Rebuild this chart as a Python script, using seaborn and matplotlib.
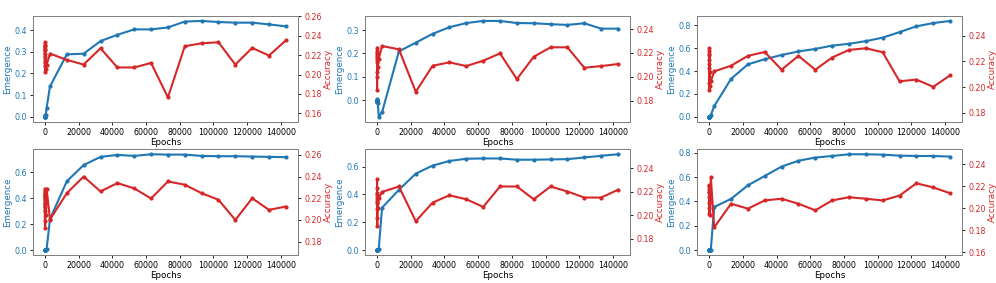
import numpy as np
import pandas as pd
import matplotlib
matplotlib.use('Agg')
import matplotlib.pyplot as plt
import seaborn as sns

# checkpoints (log steps, then 1000, 3000, 13000 ... 143000)
steps = [0, 1, 2, 4, 8, 16, 32, 64, 128, 256, 512, 1000, 3000,
         13000, 23000, 33000, 43000, 53000, 63000, 73000, 83000,
         93000, 103000, 113000, 123000, 133000, 143000]

emer_1 = [0, 0, 0, 0.001, 0, 0.002, 0.003, 0.004, 0.006, 0.008, 0.01, 0.04, 0.14,
          0.288, 0.291, 0.349, 0.378, 0.403, 0.403, 0.412, 0.439, 0.442, 0.437, 0.434, 0.434, 0.426, 0.417]
acc_1 = [0.2215, 0.2335, 0.2255, 0.2310, 0.2085, 0.2290, 0.2125, 0.2260, 0.2030, 0.2185, 0.2060, 0.2100, 0.2216,
         0.2151, 0.2103, 0.2271, 0.2073, 0.2073, 0.2120, 0.1764, 0.2292, 0.2323, 0.2333, 0.2103, 0.2275, 0.2196, 0.2353]

emer_2 = [0, 0.005, 0.003, 0.002, 0, -0.002, -0.004, -0.006, -0.008, -0.009, -0.01, -0.071, -0.051,
          0.209, 0.246, 0.284, 0.312, 0.330, 0.339, 0.339, 0.330, 0.329, 0.325, 0.322, 0.329, 0.306, 0.306]
acc_2 = [0.2200, 0.2245, 0.2120, 0.2215, 0.1995, 0.2180, 0.1890, 0.2150, 0.2040, 0.2170, 0.2080, 0.2150, 0.2258,
         0.2230, 0.1875, 0.2093, 0.2121, 0.2090, 0.2135, 0.2196, 0.1981, 0.2168, 0.2247, 0.2247, 0.2076, 0.2090, 0.2107]

emer_3 = [0, 0, 0, 0, 0, 0, 0.001, 0.001, 0.002, 0.003, 0.004, 0.015, 0.093,
          0.332, 0.459, 0.504, 0.541, 0.572, 0.594, 0.623, 0.639, 0.662, 0.693, 0.741, 0.792, 0.820, 0.839]
acc_3 = [0.2250, 0.2303, 0.2210, 0.2280, 0.2150, 0.2260, 0.2030, 0.2180, 0.1982, 0.2120, 0.2010, 0.2046, 0.2123,
         0.2167, 0.2244, 0.2274, 0.2136, 0.2244, 0.2136, 0.2231, 0.2290, 0.2303, 0.2272, 0.2046, 0.2059, 0.2003, 0.2092]

emer_4 = [0, 0, 0, 0, 0, 0, 0.001, 0.001, 0.002, 0.003, 0.004, 0.0075, 0.24,
          0.532, 0.657, 0.720, 0.735, 0.7275, 0.740, 0.7375, 0.7375, 0.7275, 0.725, 0.725, 0.7225, 0.720, 0.7175]
acc_4 = [0.2200, 0.2290, 0.2120, 0.2250, 0.1990, 0.2230, 0.2080, 0.2270, 0.1927, 0.2150, 0.2050, 0.2290, 0.2004,
         0.2247, 0.2400, 0.2263, 0.2340, 0.2291, 0.2198, 0.2355, 0.2325, 0.2247, 0.2186, 0.2000, 0.2200, 0.2093, 0.2124]

emer_5 = [0, 0, 0, 0, 0, 0, 0.001, 0.001, 0.002, 0.003, 0.004, 0.007, 0.305,
          0.433, 0.549, 0.607, 0.640, 0.656, 0.658, 0.658, 0.649, 0.649, 0.651, 0.653, 0.665, 0.677, 0.688]
acc_5 = [0.2150, 0.2309, 0.2100, 0.2230, 0.1980, 0.2190, 0.2050, 0.2170, 0.1911, 0.2120, 0.2060, 0.2144, 0.2198,
         0.2244, 0.1948, 0.2107, 0.2169, 0.2135, 0.2070, 0.2244, 0.2244, 0.2135, 0.2244, 0.2201, 0.2150, 0.2150, 0.2216]

emer_6 = [0, 0, 0, 0, 0, 0, 0, 0.001, 0.001, 0.002, 0.002, 0.003, 0.355,
          0.421, 0.532, 0.609, 0.686, 0.734, 0.760, 0.773, 0.787, 0.787, 0.784, 0.776, 0.773, 0.773, 0.768]
acc_6 = [0.2150, 0.2212, 0.2100, 0.2200, 0.2050, 0.2180, 0.2000, 0.2150, 0.1950, 0.2100, 0.1940, 0.2284, 0.1827,
         0.2042, 0.1997, 0.2072, 0.2087, 0.2042, 0.1982, 0.2072, 0.2101, 0.2087, 0.2072, 0.2116, 0.2227, 0.2190, 0.2137]

emergence = [emer_1, emer_2, emer_3, emer_4, emer_5, emer_6]
accuracy = [acc_1, acc_2, acc_3, acc_4, acc_5, acc_6]

blue = '#1f77b4'
red = '#d62728'
tick_fs = 5.7
label_fs = 6.3

fig, axes = plt.subplots(2, 3, figsize=(9.96, 2.83), dpi=100)
fig.subplots_adjust(left=0.033, right=0.966, top=0.943, bottom=0.099, wspace=0.253, hspace=0.264)

for i, ax in enumerate(axes.flat):
    df = pd.DataFrame({'Epochs': steps, 'Emergence': emergence[i], 'Accuracy': accuracy[i]})

    sns.lineplot(data=df, x='Epochs', y='Emergence', ax=ax, color=blue, marker='o',
                 markersize=3, markeredgewidth=0, linewidth=1.5)
    ax.set_ylabel('Emergence', color=blue, fontsize=label_fs, labelpad=1.5)
    ax.set_xlabel('Epochs', fontsize=label_fs, labelpad=0.5)
    ax.tick_params(axis='y', labelcolor=blue, labelsize=tick_fs, length=2.5, width=0.6, pad=2)
    ax.tick_params(axis='x', labelsize=tick_fs, length=2.5, width=0.6, pad=2)
    ax.set_xticks(np.arange(0, 140001, 20000))

    ax2 = ax.twinx()
    sns.lineplot(data=df, x='Epochs', y='Accuracy', ax=ax2, color=red, marker='o',
                 markersize=3, markeredgewidth=0, linewidth=1.5)
    ax2.set_ylabel('Accuracy', color=red, fontsize=label_fs, labelpad=1.5)
    ax2.tick_params(axis='y', labelcolor=red, labelsize=tick_fs, length=2.5, width=0.6, pad=2)
    ax2.set_ylim(min(accuracy[i]) - 0.025, max(accuracy[i]) + 0.025)

    for a in (ax, ax2):
        for s in a.spines.values():
            s.set_linewidth(0.7)
            s.set_color('0.5')

plt.savefig('out.png', dpi=100)
